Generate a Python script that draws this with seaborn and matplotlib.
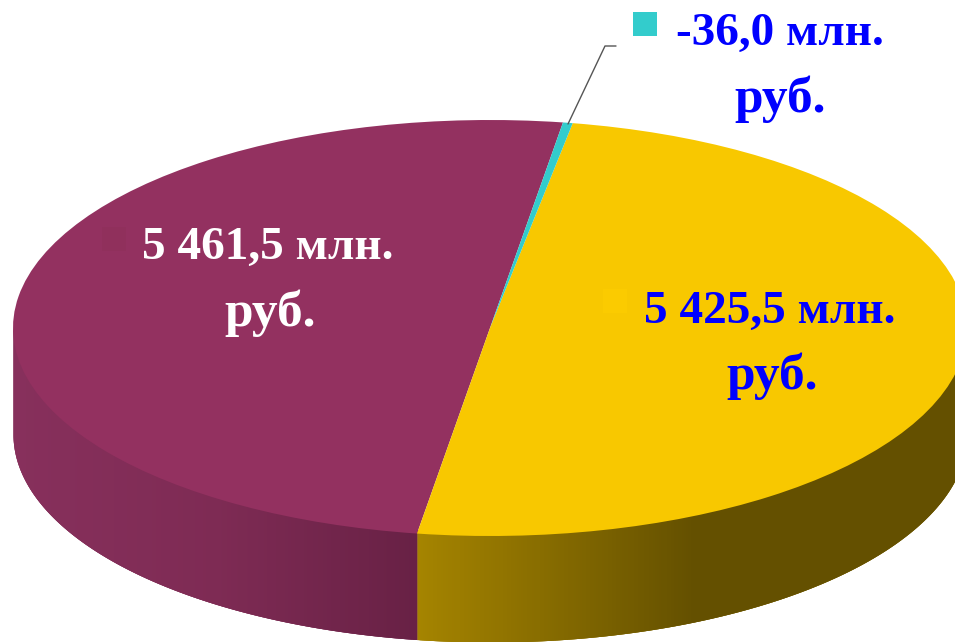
"""Pseudo-3D pie chart of three budget figures, in mln. rubles."""

import matplotlib

matplotlib.use("Agg")

import matplotlib.pyplot as plt
import numpy as np
import seaborn as sns

segment_values = [5461.5, -36.0, 5425.5]
segment_colors = ["#933160", "#33cccc", "#f8c800"]
value_labels = ["5 461,5 млн.", "-36,0 млн.", "5 425,5 млн."]
unit_labels = ["руб.", "руб.", "руб."]
label_colors = ["white", "#0000ff", "#0000ff"]
key_colors = ["#90305c", "#33cccc", "#fbcb00"]

side_maroon = ["#87305c", "#7e2b54", "#682145"]
side_yellow = ["#a58400", "#645000", "#645000"]

WIDTH, HEIGHT = 955, 642
CENTER_X, CENTER_Y = 490, 328
RADIUS_X, RADIUS_Y = 477, 208
DEPTH = 106 / RADIUS_Y
START_ANGLE = 81.2


def to_data(px, py):
    """Convert picture pixels to pie units."""
    return (px - CENTER_X) / RADIUS_X, (CENTER_Y - py) / RADIUS_Y


def draw_side(ax, angle_from, angle_to, stops, steps=400):
    """Draw the visible pie wall as overlapping strips with a colour gradient."""
    angles = np.radians(np.linspace(angle_from, angle_to, steps + 2))
    edges = np.cos(angles)
    palette = sns.blend_palette(stops, 256)

    # solid base first, thin strips at the far edge would let white through
    base_top = np.sin(angles) + 0.02
    ax.fill_between(edges, base_top, np.sin(angles) - DEPTH, color=palette[0], linewidth=0, zorder=1)

    for i in range(steps):
        # each strip runs under the next one, so no seams show through
        x = edges[i:i + 3]
        top = np.sin(angles[i:i + 3])
        share = (edges[i] - edges[0]) / (edges[-1] - edges[0])
        ax.fill_between(x, top + 0.02, top - DEPTH, color=palette[int(share * 255)], linewidth=0, zorder=2)


sns.set_theme(style="white")
plt.rcParams["font.family"] = ["Liberation Serif", "DejaVu Serif"]

fig = plt.figure(figsize=(WIDTH / 100, HEIGHT / 100), dpi=100)
ax = fig.add_axes([0, 0, 1, 1])

# order on the disc: maroon, yellow, then the thin teal sliver
order = [0, 2, 1]
sizes = [abs(segment_values[i]) for i in order]
wedges, _ = ax.pie(
    sizes,
    colors=[segment_colors[i] for i in order],
    startangle=START_ANGLE,
    radius=1,
    wedgeprops={"linewidth": 0, "zorder": 3},
)

# wall splits where the maroon slice ends
split_angle = START_ANGLE + 360 * sizes[0] / sum(sizes)
draw_side(ax, 180, split_angle, side_maroon)
draw_side(ax, split_angle, 360, side_yellow)

ax.set_aspect("auto")
ax.set_xlim(to_data(0, 0)[0], to_data(WIDTH, 0)[0])
ax.set_ylim(to_data(0, HEIGHT)[1], to_data(0, 0)[1])

# legend keys next to each data label
key_px = [(113.5, 239), (645, 24), (615, 301)]
for (px, py), color in zip(key_px, key_colors):
    kx, ky = to_data(px, py)
    ax.scatter(kx, ky, s=290, marker="s", color=color, linewidths=0, zorder=4)

# leader line for the teal sliver
line_px = np.array([(568, 124), (605, 46), (616, 46)])
line_x, line_y = to_data(line_px[:, 0], line_px[:, 1])
ax.plot(line_x, line_y, color="#555555", linewidth=1, zorder=4)

value_px = [(268, 259), (780, 45), (770, 323)]
unit_px = [(270, 326), (780, 112), (772, 389)]
for i, color in enumerate(label_colors):
    vx, vy = to_data(*value_px[i])
    ux, uy = to_data(*unit_px[i])
    ax.text(vx, vy, value_labels[i], color=color, fontsize=34, fontweight="bold",
            ha="center", va="baseline", zorder=5)
    ax.text(ux, uy, unit_labels[i], color=color, fontsize=37, fontweight="bold",
            ha="center", va="baseline", zorder=5)

fig.savefig("out.png", dpi=100)
